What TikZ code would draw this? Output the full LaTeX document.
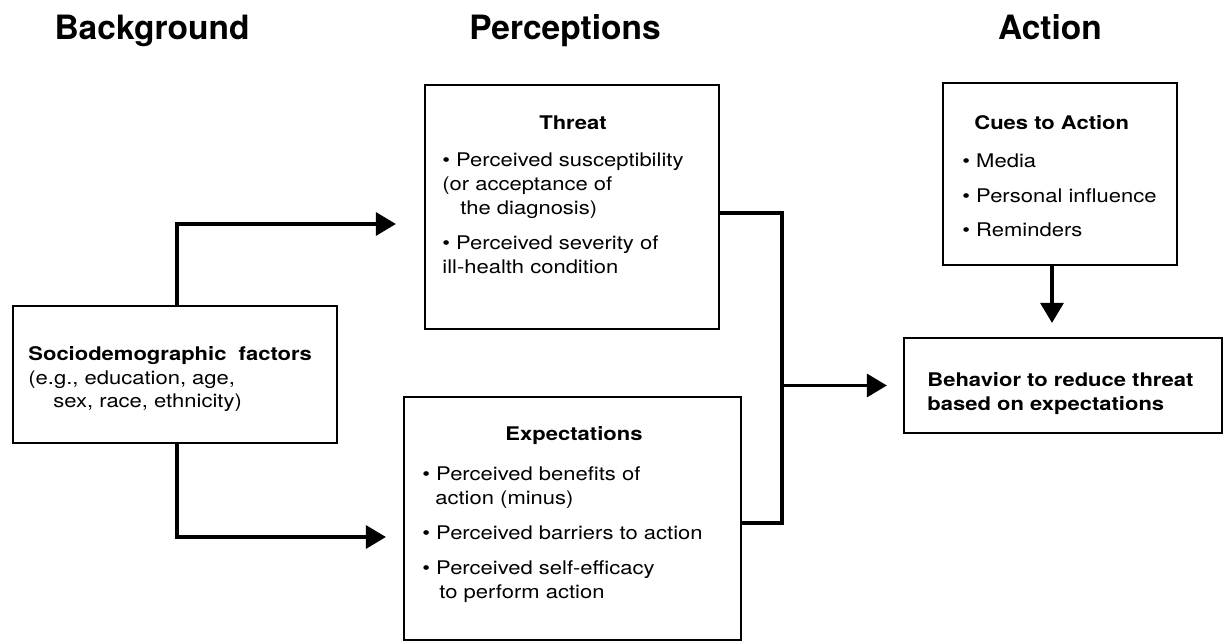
\documentclass[tikz,border=0pt]{standalone}
\usepackage{fontspec}
\setmainfont{TeX Gyre Heros}[FakeStretch=1.17]
\newfontfamily\headfont{TeX Gyre Heros}
\usetikzlibrary{arrows.meta,positioning,calc}
\tikzset{
  hbm/box/.style={
    draw=black,
    line width=1.1pt,
    inner sep=0pt,
    fill=white
  },
  hbm/text/.style={align=left, inner sep=0pt, font=\fontsize{9.4}{12}\selectfont},
  hbm/title/.style={inner sep=0pt, font=\fontsize{9.4}{12}\selectfont\bfseries},
  hbm/head/.style={inner sep=0pt, font=\headfont\fontsize{16.75}{20}\selectfont\bfseries},
  hbm/line/.style={line width=1.6pt, draw=black},
  hbm/arrow/.style={-{Triangle[length=10pt,width=11.5pt]}, line width=1.6pt, draw=black}
}

\begin{document}
\begin{tikzpicture}[x=0.5pt,y=-0.5pt]
  \fill[white] (0,0) rectangle (1228,642);
  \useasboundingbox (0,0) rectangle (1228,642);

  % column heads
  \node[hbm/head, anchor=base] (hback) at (152,40) {Background};
  \node[hbm/head, anchor=base] (hperc) at (565,40) {Perceptions};
  \node[hbm/head, anchor=base] (hact) at (1050,40) {Action};

  % boxes
  \node[hbm/box, minimum width=162pt, minimum height=68.5pt] (socio) at (175,374.5) {};
  \node[hbm/box, minimum width=147pt, minimum height=122pt] (threat) at (572,207) {};
  \node[hbm/box, minimum width=168.5pt, minimum height=121.5pt] (expect) at (572.5,518.5) {};
  \node[hbm/box, minimum width=117pt, minimum height=91pt] (cues) at (1060,174) {};
  \node[hbm/box, minimum width=159pt, minimum height=47.5pt] (behav) at (1063,385.5) {};

  % box texts
  \node[hbm/text, anchor=base west] (sociotxt) at (28,408)
    {{\bfseries Sociodemographic\ \ factors}\\
     (e.g., education, age,\\
     \hspace*{12.5pt}sex, race, ethnicity)};
  \node[hbm/title, anchor=base] (threatttl) at (573,130) {Threat};
  \node[hbm/text, anchor=base west] (threattxt) at (442,273)
    {• Perceived susceptibility\\
     (or acceptance of\\
     \hspace*{9pt}the diagnosis)\\[5.5pt]
     • Perceived severity of\\
     ill-health condition};
  \node[hbm/title, anchor=base] (expectttl) at (574,440) {Expectations};
  \node[hbm/text, anchor=base west] (expecttxt) at (422,598)
    {• Perceived benefits of\\
     \hspace*{6.5pt}action (minus)\\[5.5pt]
     • Perceived barriers to action\\[5.5pt]
     • Perceived self-efficacy\\
     \hspace*{8.5pt}to perform action};
  \node[hbm/title, anchor=base west] (cuesttl) at (974,130) {Cues to Action};
  \node[hbm/text, anchor=base west] (cuestxt) at (962,237)
    {• Media\\[5.5pt]
     • Personal influence\\[5.5pt]
     • Reminders};
  \node[hbm/text, anchor=base west, font=\fontsize{9.4}{12}\selectfont\bfseries] (behavtxt) at (927,410)
    {Behavior to reduce threat\\
     based on expectations};

  % connectors
  \coordinate (join) at (782,385.5);
  \draw[hbm/arrow, shorten >=14pt] ([xshift=1pt]socio.north) |- ([yshift=-8.5pt]threat.west);
  \draw[hbm/arrow, shorten >=8.5pt] ([xshift=1pt]socio.south) |- ([yshift=-9.25pt]expect.west);
  \draw[hbm/line] ([yshift=-3pt]threat.east) -| (join) |- ([yshift=-2.25pt]expect.east);
  \draw[hbm/arrow, shorten >=8pt] (join) -- (behav.west);
  \draw[hbm/arrow, shorten >=7pt] ([xshift=-4pt]cues.south) -- ([xshift=-4pt]cues.south |- behav.north);
\end{tikzpicture}
\end{document}
